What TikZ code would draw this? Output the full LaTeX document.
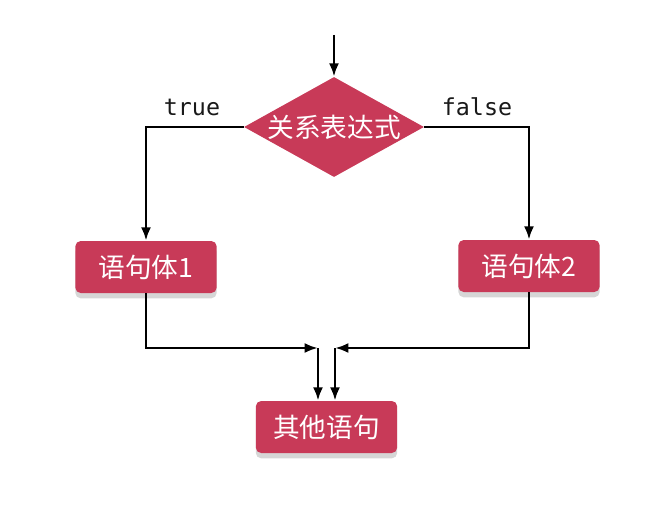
\documentclass[tikz,border=0pt]{standalone}
\usepackage{fontspec}
\newfontfamily\cjk{Noto Sans CJK SC}
\setmonofont{DejaVu Sans Mono}
\usetikzlibrary{arrows.meta,positioning,shapes.geometric,shadows}
\definecolor{flowred}{RGB}{200,58,88}
\tikzset{
  fbox/.style ={rectangle, rounded corners=4pt, fill=flowred, text=white,
                minimum width=106pt, minimum height=39pt, inner sep=0pt,
                font=\cjk\fontsize{20}{23}\selectfont,
                drop shadow={shadow xshift=0pt, shadow yshift=-4pt,
                             fill=black, opacity=0.16}},
  fcond/.style={diamond, aspect=1.8, fill=flowred, text=white, inner sep=0pt,
                minimum width=135pt, minimum height=75pt,
                font=\cjk\fontsize{20}{23}\selectfont},
  flow/.style ={-{Latex[length=10pt,width=7.5pt]}, line width=2.1pt, black},
  flabel/.style={font=\ttfamily\fontsize{17.5}{20}\selectfont, text=black!90},
}

\begin{document}
\begin{tikzpicture}[x=0.75pt, y=-0.75pt]
  \useasboundingbox (0,0) rectangle (668,528);
  \node[fcond] (cond)  at (334,127)   {关系表达式};
  \node[fbox]  (body1) at (146,267)   {语句体1};
  \node[fbox]  (body2) at (529,266)   {语句体2};
  \node[fbox]  (other) at (326.5,427) {其他语句};
  \coordinate (start) at (334,35);
  \coordinate (jl) at (318,348);
  \coordinate (jr) at (335,348);
  \draw[flow] (start) -- (cond.north);
  \draw[flow] (cond.west) -| (body1.north);
  \draw[flow] (cond.east) -| (body2.north);
  \draw[flow] (body1.south) |- (jl);
  \draw[flow] (body2.south) |- (jr);
  \draw[flow] (jl) -- (jl |- other.north);
  \draw[flow] (jr) -- (jr |- other.north);
  \node[flabel] (ltrue)  at (192,107) {true};
  \node[flabel] (lfalse) at (477,107) {false};
\end{tikzpicture}
\end{document}
